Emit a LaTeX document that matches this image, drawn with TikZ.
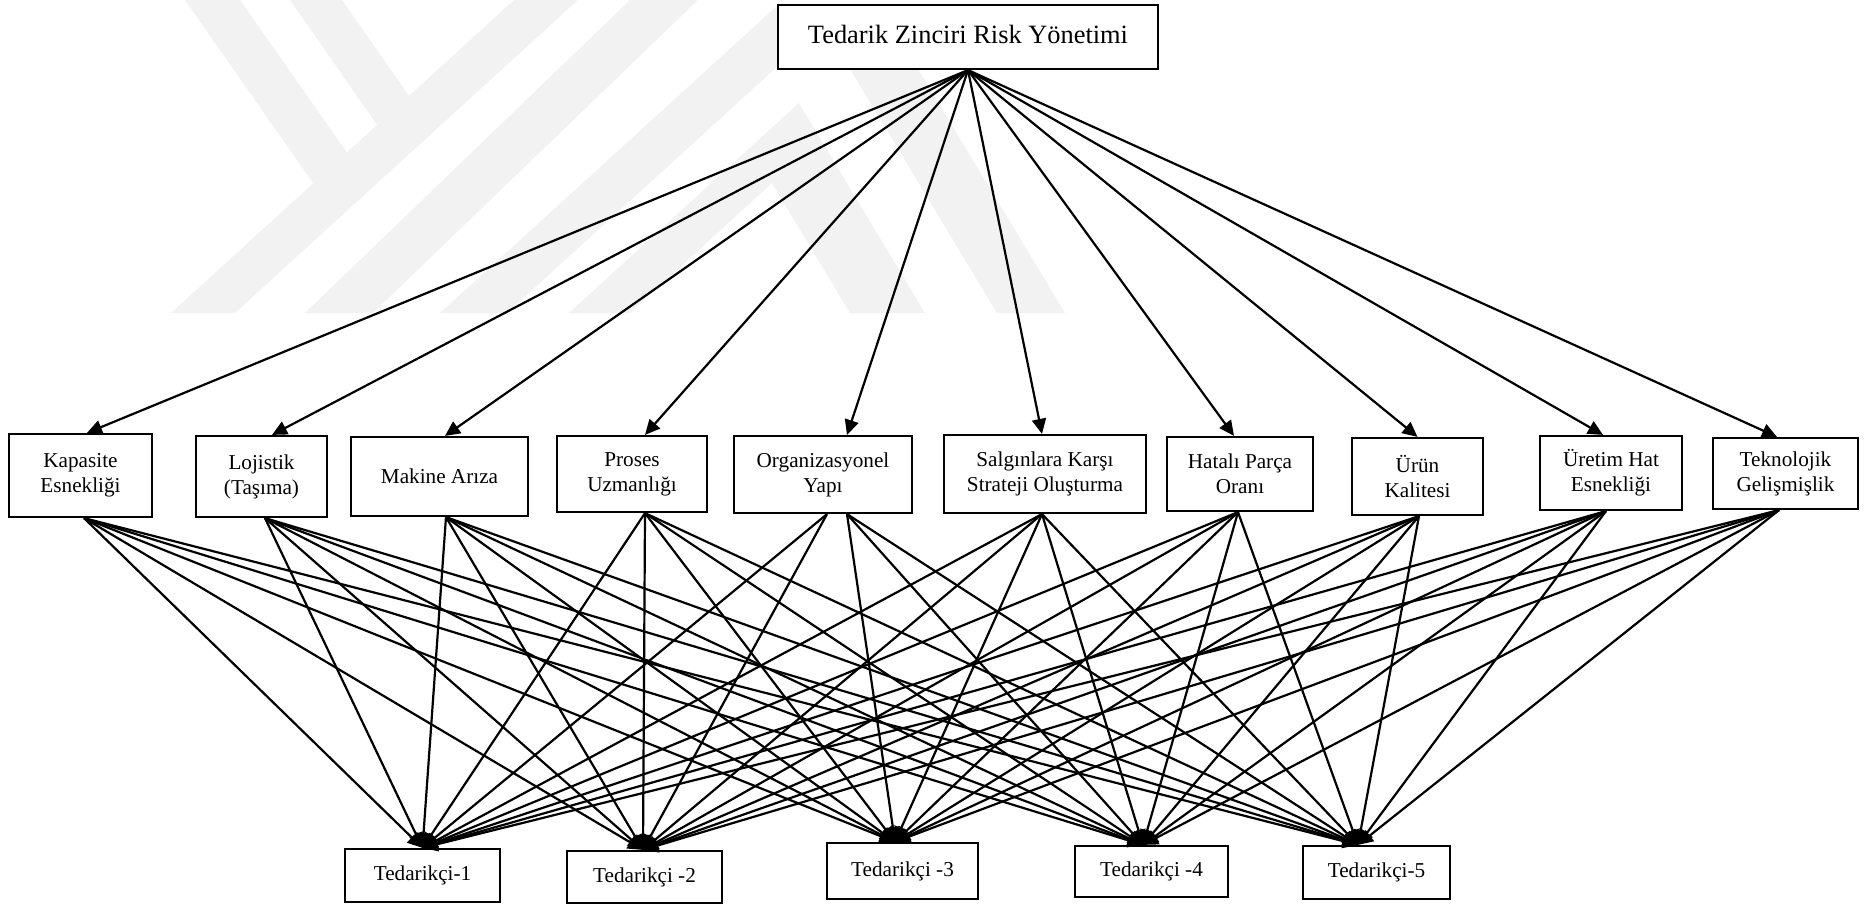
\documentclass[tikz,border=0pt]{standalone}
\usepackage{fontspec}
\setmainfont{Liberation Serif}
\usetikzlibrary{arrows.meta}
\begin{document}
\begin{tikzpicture}[x=0.5pt,y=-0.5pt,
  box/.style={draw, line width=1.1pt, fill=white, align=center, inner sep=0pt,
    font=\fontsize{10.6}{12.5}\selectfont},
  arr/.style={line width=1.1pt, -{Triangle[length=7.5pt,width=7pt]}},
  wm/.style={fill=black!5, draw=none}]
\useasboundingbox (0,0) rectangle (1865,905);
% faint watermark
\fill[wm] (171,313) -- (235,313) -- (578,0) -- (514,0) -- cycle;
\fill[wm] (185,0) -- (240,0) -- (347,152.6) -- (313,183) -- cycle;
\fill[wm] (290,0) -- (342,0) -- (409,95.8) -- (377,124.7) -- cycle;
\fill[wm] (305,313) -- (373,313) -- (698,0) -- (630,0) -- cycle;
\fill[wm] (440,313) -- (507,313) -- (845,5) -- (778,5) -- cycle;
\fill[wm] (569,313) -- (799,103) -- (925,313) -- (850,313) -- (772,183) -- (630,313) -- cycle;
\fill[wm] (997,313) -- (1065,313) -- (918,69) -- (850,69) -- cycle;
% top
\node[box, font=\fontsize{13.2}{15}\selectfont, minimum width=190pt, minimum height=32pt] (top) at (968,37) {\raisebox{2.5pt}{Tedarik Zinciri Risk Yönetimi}};
% criteria
\node[box, minimum width=71.5pt, minimum height=41.5pt] (k1) at (80.5,475.5) {Kapasite\\Esnekliği};
\node[box, minimum width=65.5pt, minimum height=40.5pt] (k2) at (261.5,476.5) {Lojistik\\(Taşıma)};
\node[box, minimum width=88.5pt, minimum height=39.5pt] (k3) at (439.5,476.5) {Makine Arıza};
\node[box, minimum width=75pt, minimum height=38pt] (k4) at (632,474) {Proses\\Uzmanlığı};
\node[box, minimum width=89pt, minimum height=38.5pt] (k5) at (823,474.5) {Organizasyonel\\Yapı};
\node[box, minimum width=101pt, minimum height=39pt] (k6) at (1045,474) {Salgınlara Karşı\\Strateji Oluşturma};
\node[box, minimum width=73pt, minimum height=37pt] (k7) at (1240,474) {Hatalı Parça\\Oranı};
\node[box, minimum width=65.5pt, minimum height=38.5pt] (k8) at (1417.5,476.5) {Ürün\\Kalitesi};
\node[box, minimum width=71pt, minimum height=37pt] (k9) at (1611,473) {Üretim Hat\\Esnekliği};
\node[box, minimum width=72.5pt, minimum height=35.5pt] (k10) at (1785.5,473.5) {Teknolojik\\Gelişmişlik};
% suppliers
\node[box, minimum width=77.5pt, minimum height=26.5pt] (s1) at (422.5,875.5) {Tedarikçi-1};
\node[box, minimum width=77.5pt, minimum height=26pt] (s2) at (644.5,877) {Tedarikçi -2};
\node[box, minimum width=75.5pt, minimum height=28pt] (s3) at (902.5,871) {Tedarikçi -3};
\node[box, minimum width=76.5pt, minimum height=25.5pt] (s4) at (1151.5,871.5) {Tedarikçi -4};
\node[box, minimum width=73.5pt, minimum height=26.5pt] (s5) at (1376.5,872.5) {Tedarikçi-5};
% top arrows
\foreach \k/\dx in {k1/3.25pt, k2/5.25pt, k3/2.75pt, k4/6.5pt, k5/12pt, k6/-1.5pt, k7/-3pt, k8/0pt, k9/-4pt, k10/-4.25pt}
  \draw[arr] (top.south) -- ([xshift=\dx]\k.north);
% criteria to suppliers
\foreach \k/\dx in {k1/1.75pt, k2/1.75pt, k3/3.25pt, k4/6.5pt, k6/-1.5pt, k7/-1pt, k8/0.75pt, k9/-2.5pt, k10/-3.25pt}
  \foreach \s/\sx in {s1/0pt, s2/-0.75pt, s3/-3.75pt, s4/-4.25pt, s5/-9.25pt}
    \draw[arr] ([xshift=\dx]\k.south) -- ([xshift=\sx]\s.north);
\foreach \s/\sx in {s1/0pt, s2/-0.75pt}
  \draw[arr] ([xshift=2pt]k5.south) -- ([xshift=\sx]\s.north);
\foreach \s/\sx in {s3/-3.75pt, s4/-4.25pt, s5/-9.25pt}
  \draw[arr] ([xshift=12pt]k5.south) -- ([xshift=\sx]\s.north);
\end{tikzpicture}
\end{document}
